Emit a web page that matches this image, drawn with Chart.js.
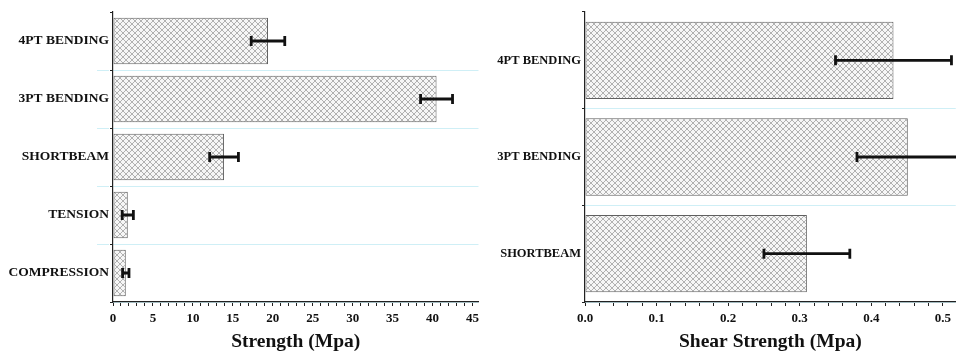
<!DOCTYPE html>
<html>
<head>
<meta charset="utf-8">
<script src="https://cdn.jsdelivr.net/npm/chart.js@4"></script>
<style>
  body { margin: 0; background: #fff; overflow: hidden; }
  .wrap { position: absolute; top: 0; height: 354px; }
  #left { left: 0; width: 484px; }
  #right { left: 480px; width: 476px; }
</style>
</head>
<body>
<div class="wrap" id="left"><canvas id="leftChart"></canvas></div>
<div class="wrap" id="right"><canvas id="rightChart"></canvas></div>
<script>
// left panel: strength
const strengthLabels = ['4PT BENDING', '3PT BENDING', 'SHORTBEAM', 'TENSION', 'COMPRESSION'];
const strengthValues = [19.4, 40.5, 13.9, 1.85, 1.6];
const strengthErr = [2.1, 2.0, 1.8, 0.7, 0.4];

// right panel: shear strength
const shearLabels = ['4PT BENDING', '3PT BENDING', 'SHORTBEAM'];
const shearValues = [0.431, 0.451, 0.310];
const shearErr = [0.081, 0.071, 0.060];

const serif = "'Liberation Serif', 'Times New Roman', serif";

function hatch() {
    const c = document.createElement('canvas');
    c.width = 6; c.height = 6;
    const g = c.getContext('2d');
    g.fillStyle = '#f6f6f6';
    g.fillRect(0, 0, 6, 6);
    g.strokeStyle = '#a0a0a0';
    g.lineWidth = 0.8;
    g.beginPath();
    g.moveTo(0, 0); g.lineTo(6, 6);
    g.moveTo(6, 0); g.lineTo(0, 6);
    g.stroke();
    return g.createPattern(c, 'repeat');
}

// horizontal error bars, placed with the chart's own scales
const errorBars = {
    id: 'errorBars',
    afterDatasetsDraw(chart, args, opts) {
        const c = chart.ctx;
        const xs = chart.scales.x, ys = chart.scales.y;
        const vals = chart.data.datasets[0].data;
        c.save();
        c.strokeStyle = '#111';
        c.lineWidth = 2.8;
        vals.forEach((v, i) => {
            const y = ys.getPixelForValue(i);
            const x1 = xs.getPixelForValue(v - opts.err[i]);
            const x2 = xs.getPixelForValue(v + opts.err[i]);
            c.beginPath();
            c.moveTo(x1, y); c.lineTo(x2, y);
            c.moveTo(x1, y - 5); c.lineTo(x1, y + 5);
            c.moveTo(x2, y - 5); c.lineTo(x2, y + 5);
            c.stroke();
        });
        c.restore();
    }
};

// cyan separators reach a little left of the axis in the left panel
const sepExtend = {
    id: 'sepExtend',
    beforeDatasetsDraw(chart, args, opts) {
        if (!opts.reach) return;
        const ys = chart.scales.y;
        const c = chart.ctx;
        const n = chart.data.labels.length;
        c.save();
        c.strokeStyle = '#cfeff6';
        c.lineWidth = 1;
        for (let i = 1; i < n; i++) {
            const y = Math.round((ys.getPixelForValue(i - 1) + ys.getPixelForValue(i)) / 2) + 0.5;
            c.beginPath();
            c.moveTo(chart.chartArea.left - opts.reach, y);
            c.lineTo(chart.chartArea.left - 4, y);
            c.stroke();
        }
        c.restore();
    }
};

function makeChart(id, labels, values, err, xMax, step, labelEvery, decimals, title, yWidth, reach, catSize) {
    return new Chart(document.getElementById(id), {
        type: 'bar',
        data: {
            labels: labels,
            datasets: [{
                data: values,
                backgroundColor: hatch(),
                borderColor: '#606060',
                borderWidth: 1,
                borderSkipped: false,
                categoryPercentage: 0.8,
                barPercentage: 1.0
            }]
        },
        options: {
            indexAxis: 'y',
            responsive: true,
            maintainAspectRatio: false,
            animation: false,
            layout: { padding: { top: 12, right: 0, left: 0, bottom: 0 } },
            plugins: {
                legend: { display: false },
                tooltip: { enabled: false },
                errorBars: { err: err },
                sepExtend: { reach: reach }
            },
            scales: {
                x: {
                    min: 0,
                    max: xMax,
                    border: { color: '#222', width: 1.2 },
                    grid: { drawOnChartArea: false, color: '#222', tickLength: 4 },
                    afterBuildTicks(s) {
                        // minor ticks every step, up to the last whole step
                        const t = [];
                        const n = Math.floor(xMax / step + 1e-6);
                        for (let k = 0; k <= n; k++) t.push({ value: +(k * step).toFixed(4) });
                        s.ticks = t;
                    },
                    ticks: {
                        autoSkip: false,
                        maxRotation: 0,
                        padding: 5,
                        color: '#111',
                        font: { family: serif, size: 13, weight: 'bold' },
                        callback: function (v) {
                            const n = Math.round(v / step);
                            if (n % labelEvery !== 0) return '';
                            return Number(v).toFixed(decimals);
                        }
                    },
                    title: {
                        display: true,
                        text: title,
                        color: '#111',
                        padding: { top: 2, bottom: 0 },
                        font: { family: serif, size: 19.5, weight: 'bold' }
                    },
                    afterFit(s) { s.height = 52; }
                },
                y: {
                    border: { color: '#222', width: 1.2 },
                    grid: {
                        offset: true,
                        color: ctx => ctx.index === 0 ? 'rgba(0,0,0,0)' : '#cfeff6',
                        tickColor: '#222',
                        tickLength: 3
                    },
                    ticks: {
                        padding: 1,
                        color: '#111',
                        font: { family: serif, size: catSize, weight: 'bold' }
                    },
                    afterFit(s) { s.width = yWidth; }
                }
            }
        },
        plugins: [errorBars, sepExtend]
    });
}

makeChart('leftChart', strengthLabels, strengthValues, strengthErr, 45.75, 1, 5, 0, 'Strength (Mpa)', 113, 16, 13.5);
makeChart('rightChart', shearLabels, shearValues, shearErr, 0.518, 0.02, 5, 1, 'Shear Strength (Mpa)', 105, 0, 12.5);
</script>
</body>
</html>
